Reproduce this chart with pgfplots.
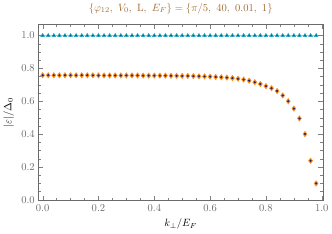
\documentclass[border=0pt]{standalone}
\usepackage{pgfplots}
\pgfplotsset{compat=1.18}
\definecolor{orng}{rgb}{0.98,0.55,0.08}
\definecolor{dnavy}{rgb}{0.12,0.12,0.5}
\definecolor{cyn}{rgb}{0.12,0.66,0.76}
\definecolor{cdot}{rgb}{0.1,0.35,0.55}
\definecolor{cynl}{rgb}{0.55,0.86,0.92}
\definecolor{ttl}{rgb}{0.62,0.42,0.2}
\definecolor{frm}{rgb}{0.42,0.42,0.42}
\begin{document}
\begin{tikzpicture}
\begin{axis}[
  scale only axis,
  width=269bp, height=167bp,
  xmin=-0.015, xmax=1.004,
  ymin=-0.006, ymax=1.07,
  xtick={0,0.2,0.4,0.6,0.8,1.0}, ytick={0,0.2,0.4,0.6,0.8,1.0},
  xticklabels={0.0,0.2,0.4,0.6,0.8,1.0},
  yticklabels={0.0,0.2,0.4,0.6,0.8,1.0},
  minor x tick num=3, minor y tick num=3,
  tick align=inside,
  axis line style={frm, line width=0.7pt},
  tick label style={color=frm},
  title style={color=ttl},
  title={$\{\varphi_{12},\ V_0,\ \mathrm{L},\ E_F\}=\{\pi/5,\ 40,\ 0.01,\ 1\}$},
  xlabel={$k_{\perp}/E_F$},
  ylabel={$|\varepsilon|/\Delta_0$},
]
\addplot[color=cynl, line width=1.5pt, mark=none] coordinates {(0,1) (0.98,1)};
\addplot[color=cyn, only marks, mark=triangle*, mark size=2.1pt] coordinates {
(0.00,1) (0.02,1) (0.04,1) (0.06,1) (0.08,1) (0.10,1) (0.12,1) (0.14,1) (0.16,1) (0.18,1)
(0.20,1) (0.22,1) (0.24,1) (0.26,1) (0.28,1) (0.30,1) (0.32,1) (0.34,1) (0.36,1) (0.38,1)
(0.40,1) (0.42,1) (0.44,1) (0.46,1) (0.48,1) (0.50,1) (0.52,1) (0.54,1) (0.56,1) (0.58,1)
(0.60,1) (0.62,1) (0.64,1) (0.66,1) (0.68,1) (0.70,1) (0.72,1) (0.74,1) (0.76,1) (0.78,1)
(0.80,1) (0.82,1) (0.84,1) (0.86,1) (0.88,1) (0.90,1) (0.92,1) (0.94,1) (0.96,1) (0.98,1)};
\addplot[color=cdot, only marks, mark=*, mark size=0.6pt] coordinates {
(0.00,1) (0.02,1) (0.04,1) (0.06,1) (0.08,1) (0.10,1) (0.12,1) (0.14,1) (0.16,1) (0.18,1)
(0.20,1) (0.22,1) (0.24,1) (0.26,1) (0.28,1) (0.30,1) (0.32,1) (0.34,1) (0.36,1) (0.38,1)
(0.40,1) (0.42,1) (0.44,1) (0.46,1) (0.48,1) (0.50,1) (0.52,1) (0.54,1) (0.56,1) (0.58,1)
(0.60,1) (0.62,1) (0.64,1) (0.66,1) (0.68,1) (0.70,1) (0.72,1) (0.74,1) (0.76,1) (0.78,1)
(0.80,1) (0.82,1) (0.84,1) (0.86,1) (0.88,1) (0.90,1) (0.92,1) (0.94,1) (0.96,1) (0.98,1)};
\addplot[color=orng, only marks, mark=diamond*, mark size=2.6pt] coordinates {
(0.00,0.758) (0.02,0.758) (0.04,0.758) (0.06,0.758) (0.08,0.758) (0.10,0.758) (0.12,0.758) (0.14,0.758) (0.16,0.758) (0.18,0.758)
(0.20,0.757) (0.22,0.757) (0.24,0.757) (0.26,0.757) (0.28,0.757) (0.30,0.757) (0.32,0.757) (0.34,0.757) (0.36,0.756) (0.38,0.756)
(0.40,0.756) (0.42,0.756) (0.44,0.756) (0.46,0.755) (0.48,0.755) (0.50,0.754) (0.52,0.754) (0.54,0.753) (0.56,0.752) (0.58,0.751)
(0.60,0.750) (0.62,0.748) (0.64,0.746) (0.66,0.744) (0.68,0.741) (0.70,0.737) (0.72,0.732) (0.74,0.725) (0.76,0.716) (0.78,0.705)
(0.80,0.692) (0.82,0.679) (0.84,0.662) (0.86,0.635) (0.88,0.600) (0.90,0.555) (0.92,0.495) (0.94,0.400) (0.96,0.237) (0.98,0.099)};
\addplot[color=dnavy, only marks, mark=*, mark size=0.8pt] coordinates {
(0.00,0.758) (0.02,0.758) (0.04,0.758) (0.06,0.758) (0.08,0.758) (0.10,0.758) (0.12,0.758) (0.14,0.758) (0.16,0.758) (0.18,0.758)
(0.20,0.757) (0.22,0.757) (0.24,0.757) (0.26,0.757) (0.28,0.757) (0.30,0.757) (0.32,0.757) (0.34,0.757) (0.36,0.756) (0.38,0.756)
(0.40,0.756) (0.42,0.756) (0.44,0.756) (0.46,0.755) (0.48,0.755) (0.50,0.754) (0.52,0.754) (0.54,0.753) (0.56,0.752) (0.58,0.751)
(0.60,0.750) (0.62,0.748) (0.64,0.746) (0.66,0.744) (0.68,0.741) (0.70,0.737) (0.72,0.732) (0.74,0.725) (0.76,0.716) (0.78,0.705)
(0.80,0.692) (0.82,0.679) (0.84,0.662) (0.86,0.635) (0.88,0.600) (0.90,0.555) (0.92,0.495) (0.94,0.400) (0.96,0.237) (0.98,0.099)};
\end{axis}
\end{tikzpicture}
\end{document}
